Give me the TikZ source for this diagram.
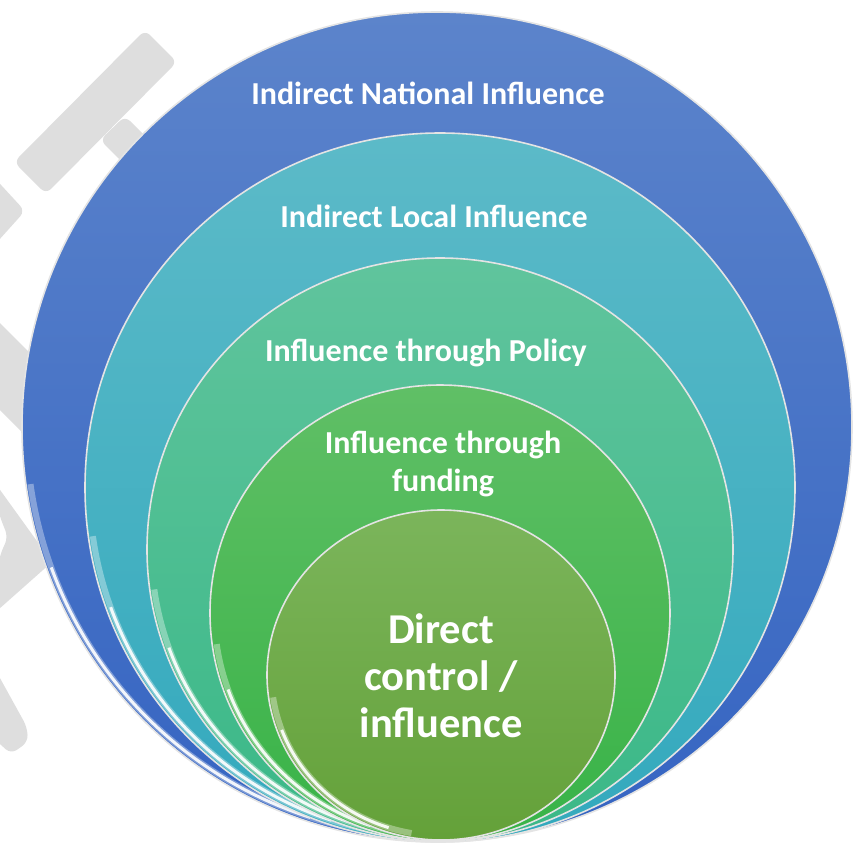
\documentclass[tikz,border=0pt]{standalone}
\usepackage{fontspec}
\setmainfont{Carlito}
\usetikzlibrary{shapes.geometric}
\definecolor{wmark}{HTML}{DEDEDE}
\definecolor{ringline}{HTML}{E4E4E4}
\definecolor{nat1}{HTML}{5C84CB}
\definecolor{nat2}{HTML}{3564C2}
\definecolor{loc1}{HTML}{5CBAC8}
\definecolor{loc2}{HTML}{33A9BD}
\definecolor{pol1}{HTML}{60C49D}
\definecolor{pol2}{HTML}{3AB887}
\definecolor{fun1}{HTML}{60BF66}
\definecolor{fun2}{HTML}{38B347}
\definecolor{dir1}{HTML}{7BB55B}
\definecolor{dir2}{HTML}{64A139}
\begin{document}
\begin{tikzpicture}[x=1pt,y=-1pt,line join=round,line cap=round,
	ring/.style={ellipse,inner sep=0pt,outer sep=0pt,draw=ringline,line width=1.6pt},
	glow/.style={white,line cap=butt},
	lbl/.style={text=white,font=\bfseries\fontsize{32}{38}\selectfont,align=center,anchor=base}]
	\useasboundingbox (0,0) rectangle (855,844);
	% watermark behind the rings
	\begin{scope}[wmark,rounded corners=7pt]
		\fill (14,162)--(145,30)--(177,62)--(46,194)--cycle;
		\fill (100,140)--(125,116)--(200,190)--(175,214)--cycle;
		\fill (-10,173)--(25,211)--(-10,250)--cycle;
		\fill (-10,313)--(110,433)--(110,520)--(-10,400)--cycle;
		\fill (-10,476)--(52,562)--(-10,617)--(0,555)--(8,537)--(0,517)--cycle;
		\fill (-10,660)--(27,727)--(28,742)--(11,754)--(-10,735)--cycle;
	\end{scope}
	% the five rings, outer first
	\foreach \n/\cx/\cy/\rx/\ry/\ca/\cb in {national/437/427/415/415/nat1/nat2,local/440/487.5/355/354.5/loc1/loc2,policy/440/549.5/293/291.5/pol1/pol2,funding/440/613/230/228/fun1/fun2,direct/441/675/174/165/dir1/dir2}{
		\node[ring,top color=\ca,bottom color=\cb,minimum width=2*\rx,minimum height=2*\ry] (\n) at (\cx,\cy) {};
		\draw[glow,line width=6pt,opacity=.35] (\n.center) ++(172:{\rx-4.5} and {\ry-4.5}) arc[start angle=172,end angle=100,x radius=\rx-4.5,y radius=\ry-4.5];
		\draw[glow,line width=3pt,opacity=.9] (\n.center) ++(160:{\rx-4.5} and {\ry-4.5}) arc[start angle=160,end angle=108,x radius=\rx-4.5,y radius=\ry-4.5];
	}
	\node[lbl] (national-t) at (428,104) {Indirect National Influence};
	\node[lbl] (local-t) at (434,227) {Indirect Local Influence};
	\node[lbl] (policy-t) at (426,361) {Influence through Policy};
	\node[lbl] (funding-t) at (443,491) {Influence through\\funding};
	\node[lbl,font=\bfseries\fontsize{42.5}{47}\selectfont] (direct-t) at (441,737) {Direct\\control /\\influence};
\end{tikzpicture}
\end{document}
